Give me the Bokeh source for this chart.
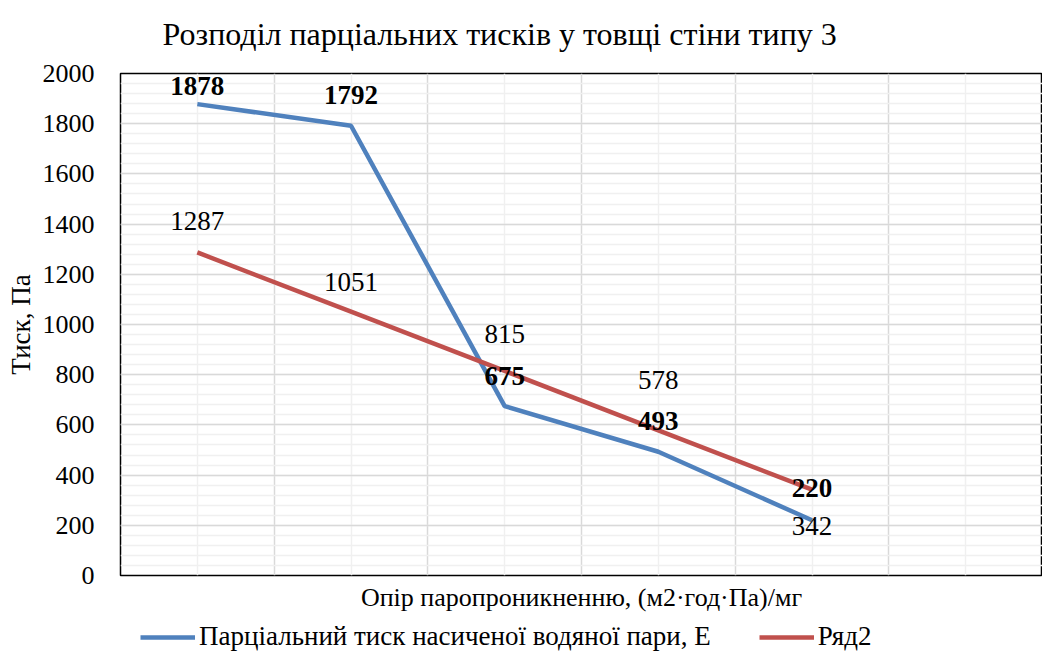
from bokeh.plotting import figure
from bokeh.layouts import column
from bokeh.models import (ColumnDataSource, FixedTicker, Legend, LegendItem, Label)
from bokeh.embed import file_html
from bokeh.resources import INLINE
from bokeh.core.properties import value

# ---- data ----
points = [1, 2, 3, 4, 5]
series_e = [1878, 1792, 675, 493, 220]      # Парціальний тиск насиченої водяної пари, E
series_2 = [1287, 1051, 815, 578, 342]      # Ряд2
labels_e = ["1878", "1792", "675", "493", "220"]
labels_2 = ["1287", "1051", "815", "578", "342"]
y_ticks = [0, 200, 400, 600, 800, 1000, 1200, 1400, 1600, 1800, 2000]
title_text = "Розподіл парціальних тисків у товщі стіни типу 3"
x_title = "Опір паропроникненню, (м2·год·Па)/мг"
y_title = "Тиск, Па"
name_e = "Парціальний тиск насиченої водяної пари, Е"
name_2 = "Ряд2"

# label styling offsets (pixels, screen)
dy_e = [-18, -31, -30, -31, -32]
dy_2 = [-31, -30, -37, -50, 36]

FONT = "Liberation Serif"
BLUE = "#4F81BD"
RED = "#C0504D"
W = 1042

# ---- title strip ----
tf = figure(width=W, height=53, output_backend="svg", toolbar_location=None,
            x_range=(0, 1), y_range=(0, 1), x_axis_location=None, y_axis_location=None,
            min_border=0)
tf.outline_line_color = None
tf.grid.visible = False
tf.title.visible = False
tf.add_layout(Label(x=42, y=20, x_units="screen", y_units="screen", text=title_text,
                    text_font=FONT, text_font_size="32px", text_color="black",
                    text_baseline="middle", text_align="left"))

# ---- main chart ----
p = figure(width=W, height=562, output_backend="svg", toolbar_location=None,
           x_range=(0.5, 6.5), y_range=(0, 2000),
           min_border_left=120, min_border_right=0, min_border_top=20, min_border_bottom=40)
p.title.text = ""
p.title.visible = False

p.outline_line_color = "black"
p.outline_line_width = 1.5
p.background_fill_color = "white"
p.border_fill_color = "white"

# y axis
p.yaxis.ticker = FixedTicker(ticks=y_ticks, minor_ticks=list(range(0, 2001, 40)))
p.yaxis.axis_line_color = None
p.yaxis.major_tick_line_color = None
p.yaxis.minor_tick_line_color = None
p.yaxis.major_tick_out = 0
p.yaxis.major_label_text_font = FONT
p.yaxis.major_label_text_font_size = "26px"
p.yaxis.major_label_text_color = "black"
p.yaxis.major_label_standoff = 22
p.yaxis.axis_label = y_title
p.yaxis.axis_label_text_font = FONT
p.yaxis.axis_label_text_font_size = "27px"
p.yaxis.axis_label_text_font_style = "normal"
p.yaxis.axis_label_text_color = "black"
p.yaxis.axis_label_standoff = 4

# x axis (no tick labels)
p.xaxis.ticker = FixedTicker(ticks=[])
p.xaxis.axis_line_color = None
p.xaxis.major_tick_line_color = None
p.xaxis.minor_tick_line_color = None
p.xaxis.major_tick_out = 0
p.xaxis.major_label_standoff = 0
p.xaxis.axis_label = x_title
p.xaxis.axis_label_text_font = FONT
p.xaxis.axis_label_text_font_size = "26px"
p.xaxis.axis_label_text_font_style = "normal"
p.xaxis.axis_label_text_color = "black"
p.xaxis.axis_label_standoff = 7

# grids
p.xgrid.ticker = FixedTicker(ticks=[0.5 + i for i in range(7)], minor_ticks=[1, 2, 3, 4, 5, 6])
for g in (p.xgrid, p.ygrid):
    g.grid_line_color = "#d9d9d9"
    g.grid_line_width = 1.5
    g.minor_grid_line_color = "#f0f0f0"
    g.minor_grid_line_width = 1.5

src_e = ColumnDataSource(dict(x=points, y=series_e, t=labels_e, dy=dy_e))
src_2 = ColumnDataSource(dict(x=points, y=series_2, t=labels_2, dy=dy_2))

p.line("x", "y", source=src_e, line_color=BLUE, line_width=4.5)
p.line("x", "y", source=src_2, line_color=RED, line_width=4.5)

p.text("x", "y", text="t", source=src_2, y_offset="dy", text_align="center",
       text_baseline="middle", text_font=value(FONT), text_font_size="27px",
       text_color="black")
p.text("x", "y", text="t", source=src_e, y_offset="dy", text_align="center",
       text_baseline="middle", text_font=value(FONT), text_font_size="27px",
       text_font_style="bold", text_color="black")

# ---- legend strip (its glyph lines lie outside the visible range) ----
lg = figure(width=W, height=40, output_backend="svg", toolbar_location=None,
            x_range=(0, 1), y_range=(0, 1), x_axis_location=None, y_axis_location=None,
            min_border=0)
lg.outline_line_color = None
lg.grid.visible = False
lg.title.visible = False
le = lg.line(x=points, y=series_e, line_color=BLUE, line_width=4.5)
l2 = lg.line(x=points, y=series_2, line_color=RED, line_width=4.5)
legend = Legend(items=[LegendItem(label=name_e, renderers=[le]),
                       LegendItem(label=name_2, renderers=[l2])],
                orientation="horizontal", location=(20, 3),
                label_text_font=FONT, label_text_font_size="27px", label_text_color="black",
                glyph_width=55, label_standoff=4, spacing=48, padding=0, margin=0,
                border_line_color=None, background_fill_alpha=0)
lg.add_layout(legend, "center")

layout = column(tf, p, lg, spacing=0)
open("out.html", "w").write(file_html(layout, INLINE))
